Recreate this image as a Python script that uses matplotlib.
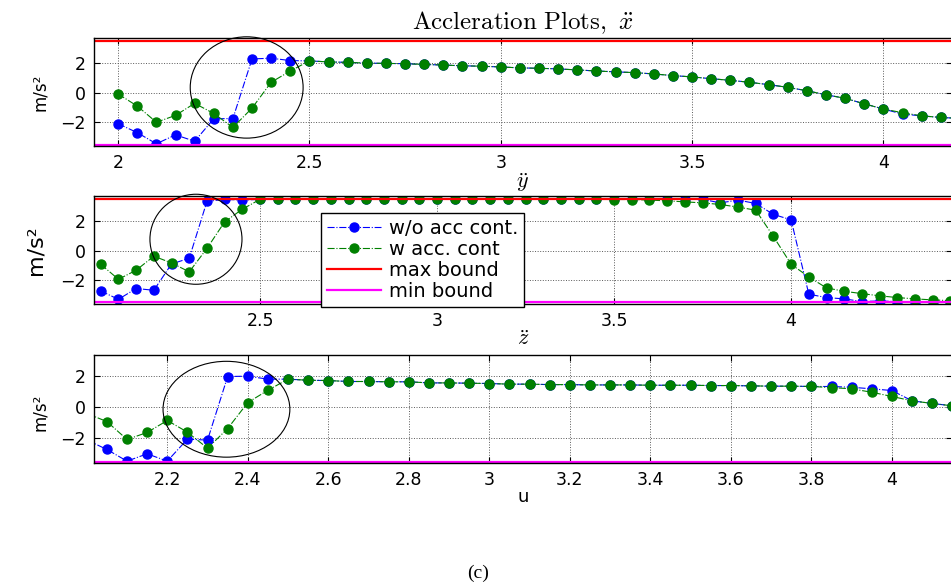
import matplotlib
matplotlib.use('Agg')
import matplotlib.pyplot as plt
from matplotlib.patches import Ellipse

plt.rcParams['mathtext.fontset'] = 'cm'
plt.rcParams['font.family'] = ['DejaVu Sans']

# ---------------- data ----------------
max_bound = 3.5
min_bound = -3.5

# panel 1 (y-ddot)
x1 = [2.00, 2.05, 2.10, 2.15, 2.20, 2.25, 2.30, 2.35, 2.40, 2.45,
      2.50, 2.55, 2.60, 2.65, 2.70, 2.75, 2.80, 2.85, 2.90, 2.95,
      3.00, 3.05, 3.10, 3.15, 3.20, 3.25, 3.30, 3.35, 3.40, 3.45,
      3.50, 3.55, 3.60, 3.65, 3.70, 3.75, 3.80, 3.85, 3.90, 3.95,
      4.00, 4.05, 4.10, 4.15, 4.20]
wo1 = [-2.10, -2.70, -3.45, -2.85, -3.28, -1.77, -1.75, 2.26, 2.31, 2.15,
       2.13, 2.06, 2.03, 1.98, 1.96, 1.94, 1.89, 1.85, 1.80, 1.77,
       1.72, 1.66, 1.63, 1.59, 1.52, 1.45, 1.39, 1.34, 1.25, 1.14,
       1.05, 0.93, 0.82, 0.69, 0.53, 0.35, 0.12, -0.15, -0.39, -0.76,
       -1.11, -1.45, -1.57, -1.68, -1.74]
w1 = [-0.10, -0.91, -2.00, -1.54, -0.73, -1.41, -2.35, -1.05, 0.69, 1.45,
      2.13, 2.06, 2.03, 1.98, 1.96, 1.94, 1.89, 1.85, 1.80, 1.77,
      1.72, 1.66, 1.63, 1.59, 1.52, 1.45, 1.39, 1.34, 1.25, 1.14,
      1.05, 0.93, 0.82, 0.69, 0.53, 0.35, 0.12, -0.15, -0.39, -0.76,
      -1.11, -1.36, -1.57, -1.68, -1.74]

# panel 2 (z-ddot)
x2 = [2.05, 2.10, 2.15, 2.20, 2.25, 2.30, 2.35, 2.40, 2.45, 2.50,
      2.55, 2.60, 2.65, 2.70, 2.75, 2.80, 2.85, 2.90, 2.95, 3.00,
      3.05, 3.10, 3.15, 3.20, 3.25, 3.30, 3.35, 3.40, 3.45, 3.50,
      3.55, 3.60, 3.65, 3.70, 3.75, 3.80, 3.85, 3.90, 3.95, 4.00,
      4.05, 4.10, 4.15, 4.20, 4.25, 4.30, 4.35, 4.40, 4.45]
wo2 = [-2.77, -3.34, -2.60, -2.72, -0.92, -0.53, 3.36, 3.50, 3.45, 3.50,
       3.50, 3.50, 3.50, 3.50, 3.50, 3.50, 3.50, 3.50, 3.50, 3.50,
       3.50, 3.50, 3.50, 3.50, 3.50, 3.50, 3.50, 3.50, 3.50, 3.50,
       3.50, 3.50, 3.50, 3.50, 3.50, 3.26, 3.45, 3.22, 2.47, 2.10,
       -2.99, -3.22, -3.31, -3.49, -3.45, -3.50, -3.50, -3.50, -3.50]
w2 = [-0.94, -1.97, -1.35, -0.39, -0.85, -1.46, 0.14, 1.96, 2.83, 3.50,
      3.50, 3.50, 3.50, 3.50, 3.50, 3.50, 3.50, 3.50, 3.50, 3.50,
      3.50, 3.50, 3.50, 3.50, 3.50, 3.50, 3.50, 3.50, 3.50, 3.49,
      3.49, 3.45, 3.40, 3.33, 3.26, 3.15, 2.97, 2.76, 0.96, -0.94,
      -1.81, -2.56, -2.79, -2.95, -3.10, -3.22, -3.31, -3.38, -3.43]

# panel 3 (u)
x3 = [2.00, 2.05, 2.10, 2.15, 2.20, 2.25, 2.30, 2.35, 2.40, 2.45,
      2.50, 2.55, 2.60, 2.65, 2.70, 2.75, 2.80, 2.85, 2.90, 2.95,
      3.00, 3.05, 3.10, 3.15, 3.20, 3.25, 3.30, 3.35, 3.40, 3.45,
      3.50, 3.55, 3.60, 3.65, 3.70, 3.75, 3.80, 3.85, 3.90, 3.95,
      4.00, 4.05, 4.10, 4.15]
wo3 = [-2.10, -2.71, -3.46, -2.99, -3.46, -2.05, -2.11, 1.97, 1.99, 1.80,
       1.80, 1.73, 1.71, 1.65, 1.65, 1.63, 1.63, 1.56, 1.56, 1.54,
       1.52, 1.48, 1.48, 1.45, 1.45, 1.43, 1.43, 1.43, 1.41, 1.41,
       1.41, 1.39, 1.39, 1.37, 1.35, 1.35, 1.33, 1.33, 1.28, 1.18,
       1.07, 0.41, 0.24, 0.09]
w3 = [-0.40, -0.92, -2.07, -1.62, -0.85, -1.60, -2.63, -1.37, 0.30, 1.09,
      1.80, 1.73, 1.71, 1.65, 1.65, 1.63, 1.63, 1.56, 1.56, 1.54,
      1.52, 1.48, 1.48, 1.45, 1.45, 1.43, 1.43, 1.43, 1.41, 1.41,
      1.41, 1.39, 1.39, 1.37, 1.35, 1.35, 1.33, 1.26, 1.18, 0.96,
      0.69, 0.41, 0.24, 0.09]

xt1 = [2, 2.5, 3, 3.5, 4]
xl1 = ['2', '2.5', '3', '3.5', '4']
xt2 = [2.5, 3, 3.5, 4]
xl2 = ['2.5', '3', '3.5', '4']
xt3 = [2.2, 2.4, 2.6, 2.8, 3.0, 3.2, 3.4, 3.6, 3.8, 4.0]
xl3 = ['2.2', '2.4', '2.6', '2.8', '3', '3.2', '3.4', '3.6', '3.8', '4']
yt = [-2, 0, 2]

labels = ['w/o acc cont.', 'w acc. cont', 'max bound', 'min bound']

# ---------------- figure ----------------
fig = plt.figure(figsize=(9.51, 5.86), dpi=100)
W, H = 951.0, 586.0
left = 94 / W
width = 857.5 / W
ax1 = fig.add_axes([left, 1 - 146 / H, width, 108 / H])
ax2 = fig.add_axes([left, 1 - 304 / H, width, 108 / H])
ax3 = fig.add_axes([left, 1 - 462.7 / H, width, 107.7 / H])

blue = '#0000ff'
green = '#008000'


def draw(ax, x, wo, w, xlim, ylim, xt, xl):
    l1, = ax.plot(x, wo, ls='-.', lw=0.8, color=blue, marker='o', ms=6.5,
                  mec=blue, mfc=blue, label=labels[0])
    l2, = ax.plot(x, w, ls='-.', lw=0.8, color=green, marker='o', ms=6.5,
                  mec=green, mfc=green, label=labels[1])
    l3 = ax.axhline(max_bound, color='#ff0000', lw=1.6, label=labels[2])
    l4 = ax.axhline(min_bound, color='#ff00ff', lw=1.6, label=labels[3])
    ax.set_xlim(*xlim)
    ax.set_ylim(*ylim)
    ax.set_xticks(xt)
    ax.set_xticklabels(xl)
    ax.set_yticks(yt)
    ax.grid(True, ls=':', color='0.35', lw=0.7)
    ax.tick_params(direction='in', top=True, right=True, length=4,
                   width=0.8, labelsize=12.5, pad=6)
    for s in ax.spines.values():
        s.set_linewidth(1.0)
        s.set_color('k')
    return [l1, l2, l3, l4]


draw(ax1, x1, wo1, w1, (1.937, 4.178), (-3.6, 3.67), xt1, xl1)
handles = draw(ax2, x2, wo2, w2, (2.031, 4.453), (-3.66, 3.73), xt2, xl2)
draw(ax3, x3, wo3, w3, (2.018, 4.148), (-3.56, 3.35), xt3, xl3)

# circles
for ax, c, wd, ht in [(ax1, (2.336, 0.34), 0.295, 6.82),
                      (ax2, (2.319, 0.77), 0.26, 6.16),
                      (ax3, (2.347, -0.13), 0.315, 6.15)]:
    ax.add_patch(Ellipse(c, wd, ht, fill=False, ec='k', lw=0.8,
                         clip_on=False, zorder=5))

ax1.set_title(r'$\mathrm{Accleration\ Plots,}\ \ddot{x}$', fontsize=18, pad=6)
ax1.set_xlabel(r'$\ddot{y}$', fontsize=16, labelpad=-1)
ax2.set_xlabel(r'$\ddot{z}$', fontsize=16, labelpad=-1)
ax3.set_xlabel('u', fontsize=13, labelpad=-1)

ax1.set_ylabel('m/s²', fontsize=12)
ax1.yaxis.set_label_coords(-0.053, 0.5)
ax2.set_ylabel('m/s²', fontsize=16)
ax2.yaxis.set_label_coords(-0.056, 0.5)
ax3.set_ylabel('m/s²', fontsize=12)
ax3.yaxis.set_label_coords(-0.053, 0.47)

leg = ax2.legend(handles=handles, labels=labels, loc='upper left',
                 bbox_to_anchor=((321 - 94) / 857.5, (304 - 213.3) / 108),
                 borderaxespad=0, fontsize=14, numpoints=1, handlelength=2.8,
                 handletextpad=0.4, labelspacing=0.1, borderpad=0.3,
                 fancybox=False, framealpha=1, edgecolor='k')
leg.get_frame().set_linewidth(1.0)
leg.set_zorder(10)

fig.text(478 / W, 1 - 573 / H, '(c)', ha='center', va='center',
         family='Liberation Serif', fontsize=14)

fig.savefig('out.png', dpi=100)
